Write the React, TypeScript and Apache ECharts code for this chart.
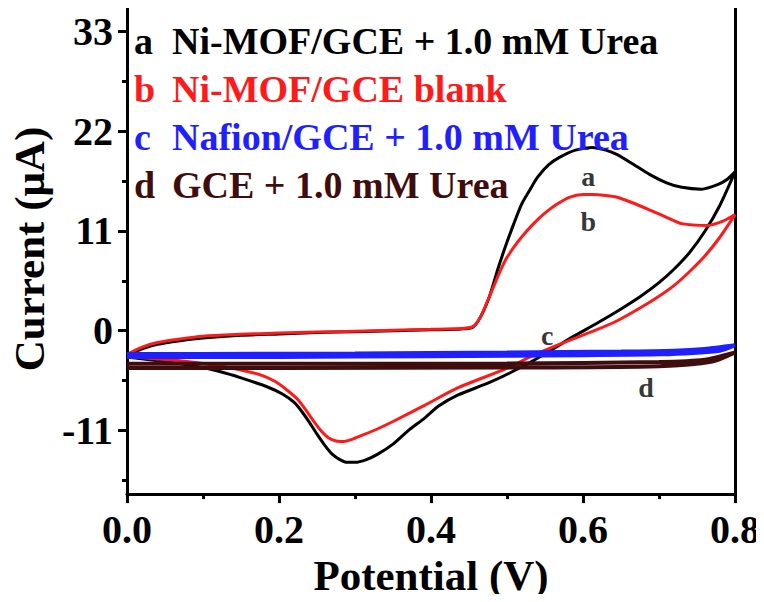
import React, { useEffect, useRef } from "react";
import * as echarts from "echarts";

// ---- Data ----
const seriesNames = [
  "Ni-MOF/GCE + 1.0 mM Urea",
  "Ni-MOF/GCE blank",
  "Nafion/GCE + 1.0 mM Urea",
  "GCE + 1.0 mM Urea",
];
const seriesKeys = ["a", "b", "c", "d"];
const seriesColors = ["#000000", "#ff1a1a", "#1f1fff", "#3f0d0d"];

// curve a: Ni-MOF/GCE + urea  [potential V, current µA]
const curveA: [number, number][] = [
  [0, -2.7], [0.02, -2.0], [0.04, -1.5], [0.07, -1.1], [0.1, -0.8], [0.15, -0.5],
  [0.2, -0.35], [0.25, -0.2], [0.3, -0.1], [0.35, 0], [0.4, 0.1], [0.44, 0.2],
  [0.455, 0.4], [0.465, 1.5], [0.477, 3.8], [0.488, 6.8], [0.498, 9.3], [0.509, 11.8],
  [0.519, 13.9], [0.53, 15.5], [0.54, 16.9], [0.555, 18.3], [0.569, 19.1], [0.59, 19.9],
  [0.612, 20.2], [0.63, 19.9], [0.645, 19.4], [0.665, 18.4], [0.688, 17.2], [0.71, 16.3],
  [0.73, 15.8], [0.756, 15.6], [0.777, 16.1], [0.79, 16.7], [0.8, 17.5],
  [0.78, 13.8], [0.76, 10.9], [0.74, 8.6], [0.72, 6.8], [0.7, 5.3], [0.676, 3.8],
  [0.65, 2.4], [0.62, 0.9], [0.582, -0.9], [0.553, -2.4], [0.519, -4.0], [0.477, -5.7],
  [0.435, -7.1], [0.41, -8.3], [0.392, -9.6], [0.37, -11.0], [0.35, -12.5], [0.33, -13.6],
  [0.315, -14.2], [0.3, -14.5], [0.29, -14.5], [0.28, -14.2], [0.27, -13.6], [0.26, -12.6],
  [0.25, -11.4], [0.24, -10.1], [0.23, -8.9], [0.22, -7.9], [0.205, -7.0], [0.185, -6.2],
  [0.15, -5.2], [0.122, -4.5], [0.09, -3.9], [0.058, -3.5], [0.03, -3.2], [0, -2.9],
];

// curve b: Ni-MOF/GCE blank
const curveB: [number, number][] = [
  [0, -2.6], [0.02, -1.8], [0.04, -1.3], [0.07, -0.9], [0.1, -0.6], [0.15, -0.4],
  [0.2, -0.25], [0.25, -0.15], [0.3, -0.05], [0.35, 0.05], [0.4, 0.15], [0.44, 0.25],
  [0.455, 0.45], [0.465, 1.5], [0.477, 3.8], [0.488, 6.0], [0.498, 7.8], [0.509, 9.2],
  [0.519, 10.3], [0.535, 11.8], [0.549, 12.9], [0.565, 13.9], [0.582, 14.7], [0.6, 15.0],
  [0.612, 15.0], [0.63, 14.9], [0.645, 14.7], [0.665, 14.1], [0.688, 13.3], [0.71, 12.5],
  [0.73, 11.8], [0.764, 11.6], [0.785, 12.1], [0.8, 12.8],
  [0.78, 10.3], [0.76, 8.2], [0.74, 6.5], [0.72, 5.0], [0.7, 3.8], [0.675, 2.5],
  [0.645, 1.1], [0.615, 0.0], [0.587, -0.9], [0.54, -2.5], [0.498, -4.2], [0.435, -6.3],
  [0.392, -8.2], [0.35, -10.0], [0.33, -10.8], [0.31, -11.5], [0.295, -12.0],
  [0.285, -12.2], [0.275, -12.15], [0.265, -11.8], [0.255, -11.0], [0.245, -9.9],
  [0.235, -8.7], [0.225, -7.6], [0.21, -6.5], [0.195, -5.6], [0.18, -5.0], [0.164, -4.6],
  [0.13, -4.0], [0.1, -3.6], [0.07, -3.3], [0.037, -3.1], [0, -2.8],
];

// curve c: Nafion/GCE + urea
const curveC: [number, number][] = [
  [0, -2.55], [0.1, -2.55], [0.3, -2.5], [0.5, -2.4], [0.65, -2.3], [0.72, -2.2],
  [0.76, -2.0], [0.8, -1.6], [0.78, -2.2], [0.7, -2.6], [0.5, -2.75], [0.3, -2.85],
  [0.1, -2.9], [0, -2.9],
];

// curve d: bare GCE + urea
const curveD: [number, number][] = [
  [0, -3.65], [0.2, -3.65], [0.5, -3.6], [0.7, -3.45], [0.76, -3.2], [0.8, -2.4],
  [0.77, -3.4], [0.7, -3.9], [0.5, -4.05], [0.2, -4.1], [0, -4.1],
];

// curve-letter annotations [potential, current, letter]
const curveLabels: [number, number, string][] = [
  [0.607, 17.0, "a"],
  [0.607, 12.0, "b"],
  [0.553, -0.5, "c"],
  [0.683, -6.3, "d"],
];

const xMin = 0;
const xMax = 0.8;
const xInterval = 0.2;
const yMin = -18;
const yMax = 36;
const yMajorTicks = [-11, 0, 11, 22, 33];
const yMinorTicks = [-16.5, -5.5, 5.5, 16.5, 27.5];

const FONT = "Liberation Serif";

export default function App() {
  const ref = useRef<HTMLDivElement>(null);

  useEffect(() => {
    if (!ref.current) return;
    const chart = echarts.init(ref.current, null, { renderer: "svg" });
    const curves = [curveA, curveB, curveC, curveD];
    const widths = [3, 3, 4, 4];
    const axisLineStyle = { color: "#000", width: 3 };

    const lineSeries = [3, 2, 0, 1].map((i) => ({
      type: "line",
      name: seriesNames[i],
      data: curves[i],
      showSymbol: false,
      smooth: 0.25,
      xAxisIndex: 0,
      yAxisIndex: 0,
      lineStyle: { color: seriesColors[i], width: widths[i] },
      itemStyle: { color: seriesColors[i] },
      z: 2 + i,
    }));

    chart.setOption({
      animation: false,
      backgroundColor: "#ffffff",
      grid: { left: 104, right: 29, top: 4, bottom: 101, containLabel: false },
      legend: {
        orient: "vertical",
        left: 124,
        top: 17,
        icon: "none",
        itemWidth: 0,
        itemHeight: 10,
        itemGap: 10,
        selectedMode: false,
        data: seriesNames.map((n, i) => ({
          name: n,
          textStyle: { color: seriesColors[i] },
        })),
        formatter: (name: string) => {
          const i = seriesNames.indexOf(name);
          return `{k|${seriesKeys[i]}}${name}`;
        },
        textStyle: {
          fontFamily: FONT,
          fontWeight: "bold",
          fontSize: 38,
          lineHeight: 38,
          rich: {
            k: { width: 38, fontFamily: FONT, fontWeight: "bold", fontSize: 38 },
          },
        },
      },
      xAxis: [
        {
          type: "value",
          position: "bottom",
          min: xMin,
          max: xMax,
          interval: xInterval,
          name: "Potential (V)",
          nameLocation: "middle",
          nameGap: 57,
          nameTextStyle: { fontFamily: FONT, fontWeight: "bold", fontSize: 43, color: "#000" },
          axisLine: { show: true, onZero: false, lineStyle: axisLineStyle },
          axisTick: { show: true, inside: false, length: 9, lineStyle: { width: 3, color: "#000" } },
          minorTick: { show: true, splitNumber: 2, length: 5, lineStyle: { width: 3, color: "#000" } },
          splitLine: { show: false },
          axisLabel: {
            margin: 15,
            fontFamily: FONT,
            fontWeight: "bold",
            fontSize: 40,
            color: "#000",
            formatter: (v: number) => v.toFixed(1),
          },
        },
        {
          type: "value",
          position: "top",
          min: xMin,
          max: xMax,
          interval: xInterval,
          axisLine: { show: true, onZero: false, lineStyle: axisLineStyle },
          axisTick: { show: false },
          axisLabel: { show: false },
          splitLine: { show: false },
        },
      ],
      yAxis: [
        {
          type: "value",
          position: "left",
          min: yMin,
          max: yMax,
          name: "Current (\u03bcA)",
          nameLocation: "middle",
          nameGap: 55,
          nameTextStyle: { fontFamily: FONT, fontWeight: "bold", fontSize: 43, color: "#000" },
          axisLine: { show: true, onZero: false, lineStyle: axisLineStyle },
          axisTick: {
            show: true,
            inside: false,
            length: 9,
            customValues: yMajorTicks,
            lineStyle: { width: 3, color: "#000" },
          },
          splitLine: { show: false },
          axisLabel: {
            margin: 14,
            customValues: yMajorTicks,
            fontFamily: FONT,
            fontWeight: "bold",
            fontSize: 40,
            color: "#000",
          },
        },
        {
          type: "value",
          position: "right",
          min: yMin,
          max: yMax,
          axisLine: { show: true, onZero: false, lineStyle: axisLineStyle },
          axisTick: { show: false },
          axisLabel: { show: false },
          splitLine: { show: false },
        },
        {
          type: "value",
          position: "left",
          min: yMin,
          max: yMax,
          axisLine: { show: false },
          axisTick: {
            show: true,
            inside: false,
            length: 5,
            customValues: yMinorTicks,
            lineStyle: { width: 3, color: "#000" },
          },
          axisLabel: { show: false, customValues: yMinorTicks },
          splitLine: { show: false },
        },
      ],
      series: [
        ...lineSeries,
        {
          type: "scatter",
          name: "curve labels",
          data: curveLabels,
          symbolSize: 0,
          xAxisIndex: 0,
          yAxisIndex: 0,
          silent: true,
          z: 10,
          label: {
            show: true,
            position: "inside",
            formatter: (p: any) => p.value[2],
            fontFamily: FONT,
            fontWeight: "bold",
            fontSize: 28,
            color: "#000",
          },
        },
      ],
    });

    return () => chart.dispose();
  }, []);

  return <div ref={ref} style={{ width: 764, height: 602, margin: -8 }} />;
}
